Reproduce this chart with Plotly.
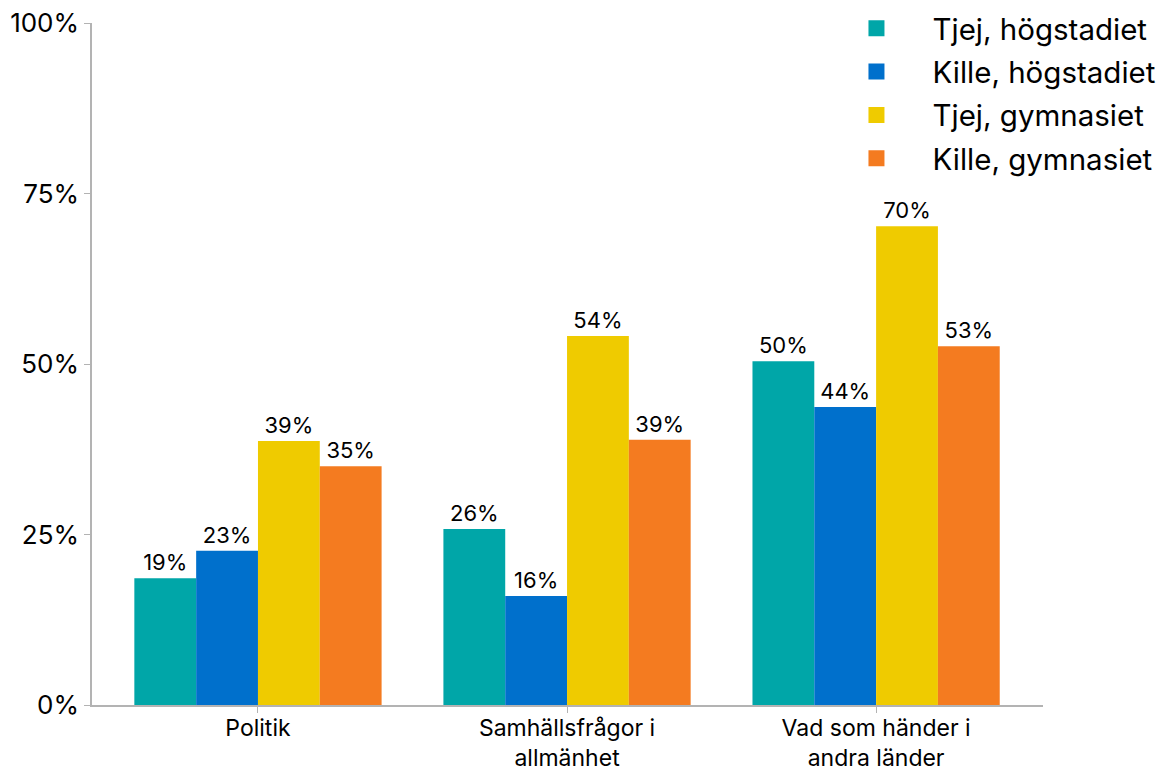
import plotly.graph_objects as go

categories = ["Politik", "Samhällsfrågor i<br>allmänhet", "Vad som händer i<br>andra länder"]
series_names = ["Tjej, högstadiet", "Kille, högstadiet", "Tjej, gymnasiet", "Kille, gymnasiet"]
tjej_hog = [18.6, 25.8, 50.4]
kille_hog = [22.6, 16.0, 43.7]
tjej_gym = [38.7, 54.1, 70.2]
kille_gym = [35.0, 38.9, 52.6]
tick_vals = [0, 25, 50, 75, 100]
tick_text = ["0%", "25%", "50%", "75%", "100%"]

colors = ["#00A6A8", "#0070CC", "#EFCB00", "#F47B20"]
font = "Inter, sans-serif"

fig = go.Figure()
for name, vals, col in zip(series_names, [tjej_hog, kille_hog, tjej_gym, kille_gym], colors):
    fig.add_trace(go.Bar(
        x=categories, y=vals, name=name,
        marker=dict(color=col, line=dict(width=0)),
        text=[f"{round(v)}%" for v in vals], textposition="outside",
        textfont=dict(size=22, color="black"), cliponaxis=False,
        showlegend=False,
    ))
    # legend entry with a bigger square symbol
    fig.add_trace(go.Scatter(
        x=[None], y=[None], mode="markers", name=name, legendgroup=name,
        marker=dict(symbol="square", size=20, color=col),
    ))

fig.update_layout(
    width=1162, height=773,
    margin=dict(l=92, r=119, t=23, b=68, autoexpand=False),
    plot_bgcolor="white", paper_bgcolor="white",
    font=dict(family=font, color="black", size=26),
    barmode="group", bargap=0.2, bargroupgap=0,
    legend=dict(x=0.766, y=1.03, xanchor="left", yanchor="top",
                font=dict(size=29.5), itemwidth=102, tracegroupgap=2,
                bgcolor="rgba(0,0,0,0)"),
    showlegend=True,
)
fig.update_xaxes(showline=True, linecolor="#b3b3b3", linewidth=1.5,
                 ticks="outside", ticklen=6, tickcolor="#b3b3b3",
                 ticklabelstandoff=-4,
                 range=[-0.537, 2.54], tickfont=dict(size=23), automargin=False)
fig.update_yaxes(showline=True, linecolor="#b3b3b3", linewidth=1.5,
                 ticks="outside", ticklen=6, tickcolor="#b3b3b3",
                 range=[0, 100], tickvals=tick_vals, ticktext=tick_text,
                 showgrid=False, zeroline=False, tickfont=dict(size=26), automargin=False)

fig.write_html("out.html", config={"displayModeBar": False},
               post_script="document.body.style.margin='0';")
